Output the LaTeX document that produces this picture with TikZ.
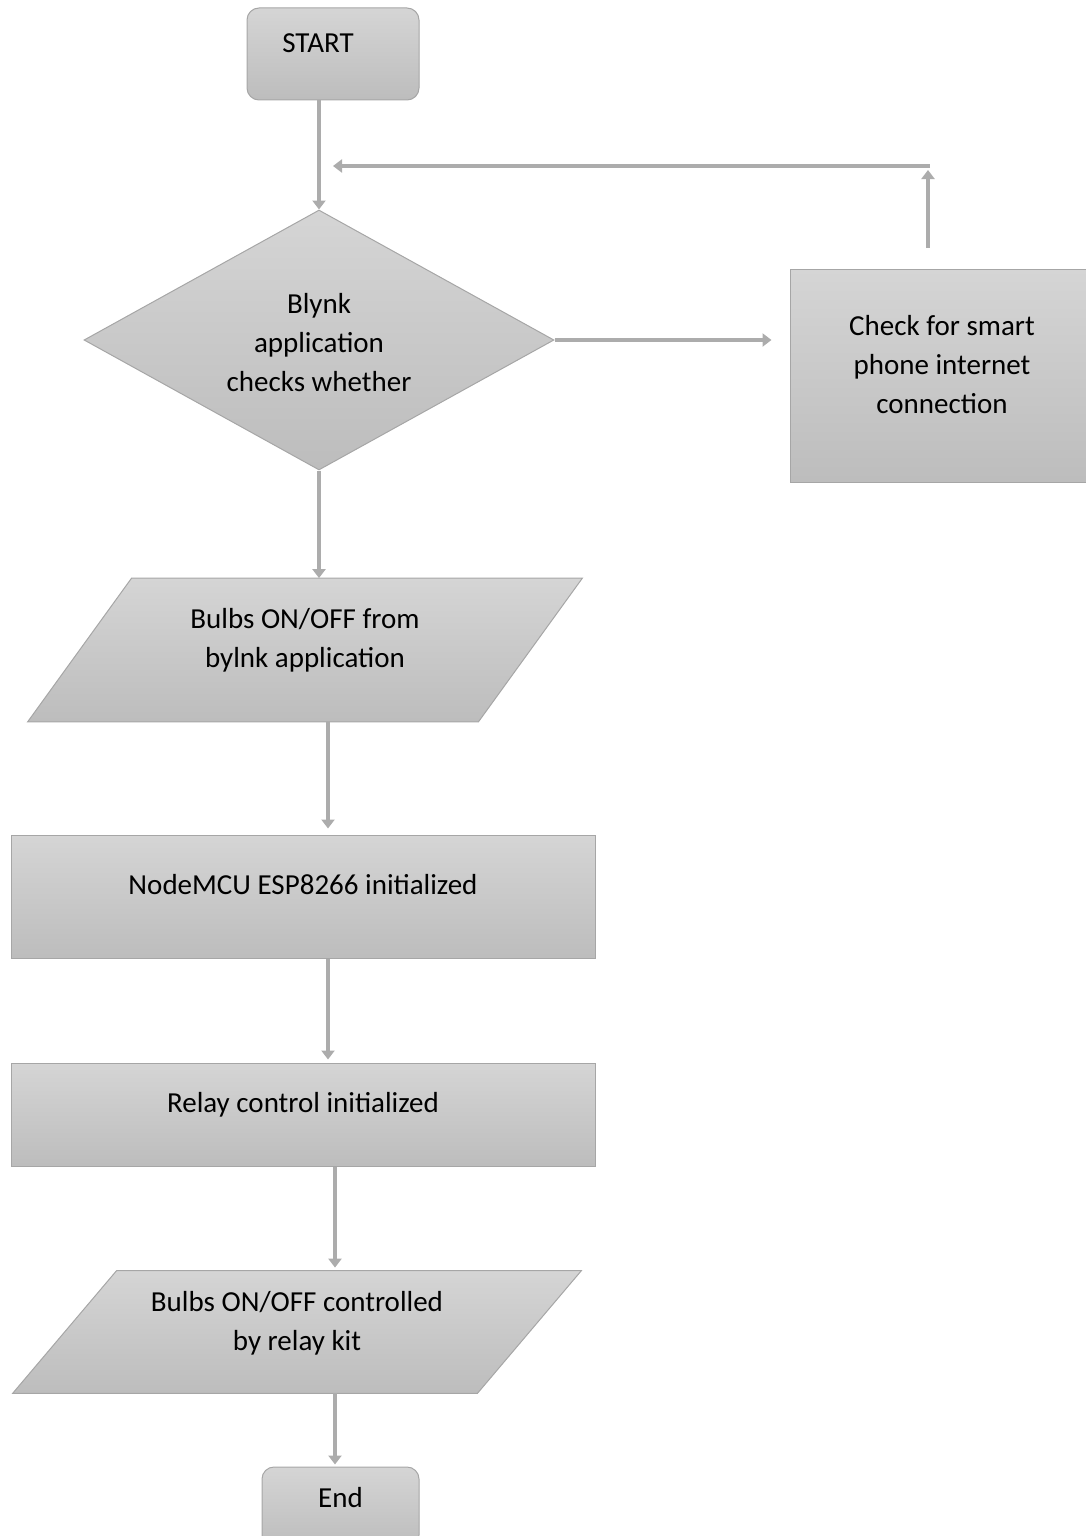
\documentclass[tikz,border=0pt]{standalone}
\usepackage{fontspec}
\setmainfont{Carlito}
\usetikzlibrary{shapes.geometric,arrows.meta,backgrounds}
\tikzset{
 blk/.style={draw=gray!70, line width=0.5pt, top color=gray!33, bottom color=gray!52},
 term/.style={blk, rectangle, rounded corners=6pt},
 proc/.style={blk, rectangle},
 io/.style={rectangle, inner sep=0pt},
 dec/.style={blk, diamond, inner sep=0pt},
 txt/.style={align=center, yshift=6pt},
 flow/.style={draw=gray!65, line width=2pt, -{Triangle[width=6.5pt,length=4.5pt]}},
}
\begin{document}
\begin{tikzpicture}[x=0.5pt, y=-0.5pt, font=\fontsize{14.5}{19.5}\selectfont]
 \useasboundingbox (0,0) rectangle (1086,1536);
 \clip (0,0) rectangle (1086,1536);
 % shapes
 \node[term, minimum width=86pt, minimum height=46pt, label={[txt, xshift=-7.5pt, yshift=-0.5pt]center:START}] (start) at (333,54) {};
 \node[dec, minimum width=235pt, minimum height=130pt, label={[txt, yshift=-7.5pt]center:{Blynk\\application\\checks whether}}] (dia) at (319,340) {};
 \node[proc, minimum width=152pt, minimum height=106.5pt, label={[txt, yshift=-0.5pt]center:{Check for smart\\phone internet\\connection}}] (check) at (942,376) {};
 \node[io, minimum width=277pt, minimum height=71.5pt, label={[txt, yshift=-1.25pt]center:{Bulbs ON/OFF from\\bylnk application}}] (para1) at (305,650) {};
 \node[proc, minimum width=292pt, minimum height=61.5pt, label={[txt]center:NodeMCU ESP8266 initialized}] (mcu) at (303,896.5) {};
 \node[proc, minimum width=292pt, minimum height=51.5pt, label={[txt, yshift=-1pt]center:Relay control initialized}] (relay) at (303,1114.5) {};
 \node[io, minimum width=284pt, minimum height=61pt, label={[txt, yshift=-1.75pt]center:{Bulbs ON/OFF controlled\\by relay kit}}] (para2) at (297,1332) {};
 \node[term, minimum width=78.5pt, minimum height=40pt, label={[txt, yshift=-1.5pt]center:End}] (fin) at (340.5,1507) {};
 % slanted input/output boxes
 \begin{scope}[on background layer]
  \draw[blk] ([xshift=52pt]para1.north west) -- (para1.north east) -- ([xshift=-52pt]para1.south east) -- (para1.south west) -- cycle;
  \draw[blk] ([xshift=52pt]para2.north west) -- (para2.north east) -- ([xshift=-52pt]para2.south east) -- (para2.south west) -- cycle;
 \end{scope}
 % loop back
 \coordinate (ret) at (928,248);
 \coordinate (corner) at (930,166);
 \coordinate (back) at (333,166);
 % connectors
 \draw[flow] (dia.north |- start.south) -- (dia.north);
 \draw[flow] (dia.east) -- ([xshift=-9pt]check.west |- dia.east);
 \draw[flow, shorten >=2pt] (ret) -- (ret |- corner);
 \draw[flow] (corner) -- (back);
 \draw[flow] (dia.south) -- (dia.south |- para1.north);
 \draw[flow, shorten >=3pt] ([xshift=11.5pt]para1.south) -- ([xshift=11.5pt]para1.south |- mcu.north);
 \draw[flow, shorten >=1.5pt] ([xshift=12.5pt]mcu.south) -- ([xshift=12.5pt]mcu.south |- relay.north);
 \draw[flow, shorten >=1.5pt] ([xshift=16pt]relay.south) -- ([xshift=16pt]relay.south |- para2.north);
 \draw[flow, shorten >=1pt] ([xshift=-2.75pt]fin.north |- para2.south) -- ([xshift=-2.75pt]fin.north);
\end{tikzpicture}
\end{document}
